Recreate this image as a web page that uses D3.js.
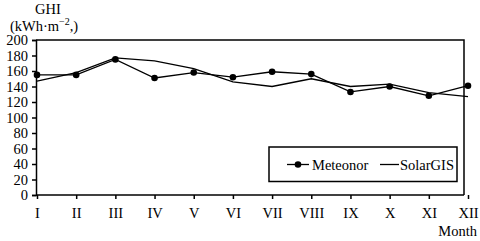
<!DOCTYPE html>
<html>
<head>
<meta charset="utf-8">
<script src="https://cdn.jsdelivr.net/npm/d3@7"></script>
<style>
body { margin: 0; background: #fff; }
svg text { font-family: "Liberation Serif", "Times New Roman", serif; fill: #000; }
</style>
</head>
<body>
<div></div>
<script>
// chart data
var months = ["I", "II", "III", "IV", "V", "VI", "VII", "VIII", "IX", "X", "XI", "XII"];
var meteonor = [155, 155, 175, 151, 158, 152, 159, 156, 133, 140, 128, 141];
var solargis = [147, 158, 177, 173, 163, 146, 140, 150, 140, 143, 132, 127];
var yTicks = [0, 20, 40, 60, 80, 100, 120, 140, 160, 180, 200];

var width = 480, height = 241;
var plotLeft = 36, plotRight = 464, plotTop = 40, plotBottom = 195;
var fs = "14.5px";

var svg = d3.select("div").append("svg")
    .attr("width", width)
    .attr("height", height);

var x = d3.scalePoint()
    .domain(months)
    .range([37, 468]);
var y = d3.scaleLinear()
    .domain([0, 200])
    .range([plotBottom, plotTop]);

// frame top + right
svg.append("path")
    .attr("d", "M" + plotLeft + "," + plotTop + "H" + plotRight + "V" + plotBottom)
    .attr("fill", "none")
    .attr("stroke", "#000")
    .attr("stroke-width", 1.5);

// y axis
var yAxis = svg.append("g")
    .attr("transform", "translate(" + plotLeft + ",0)")
    .call(d3.axisLeft(y).tickValues(yTicks).tickSize(4).tickPadding(4));
yAxis.select(".domain").attr("stroke-width", 1.5);
yAxis.selectAll("line").attr("stroke-width", 1.5);
yAxis.selectAll("text").style("font-size", fs);

// x axis
var xAxis = svg.append("g")
    .attr("transform", "translate(0," + plotBottom + ")")
    .call(d3.axisBottom(x).tickSize(4).tickPadding(9));
xAxis.select(".domain").attr("d", "M" + plotLeft + ",0H" + plotRight).attr("stroke-width", 1.5);
xAxis.selectAll("line").attr("stroke-width", 1.5);
xAxis.selectAll("text").style("font-size", fs);

// lines
var line = d3.line()
    .x(function(d, i) { return x(months[i]); })
    .y(function(d) { return y(d); });

svg.append("path")
    .datum(solargis)
    .attr("d", line)
    .attr("fill", "none")
    .attr("stroke", "#000")
    .attr("stroke-width", 1.3);

svg.append("path")
    .datum(meteonor)
    .attr("d", line)
    .attr("fill", "none")
    .attr("stroke", "#000")
    .attr("stroke-width", 1.3);

svg.selectAll(".dot")
    .data(meteonor)
  .enter().append("circle")
    .attr("class", "dot")
    .attr("cx", function(d, i) { return x(months[i]); })
    .attr("cy", function(d) { return y(d); })
    .attr("r", 3.3)
    .attr("fill", "#000");

// titles
svg.append("text").attr("x", 48).attr("y", 14).attr("text-anchor", "middle")
    .style("font-size", fs).text("GHI");
var unit = svg.append("text").attr("x", 44).attr("y", 31).attr("text-anchor", "middle")
    .style("font-size", fs);
unit.append("tspan").text("(kWh·m");
unit.append("tspan").attr("dy", -6).style("font-size", "10px").text("−2");
unit.append("tspan").attr("dy", 6).text(",)");

svg.append("text").attr("x", 477).attr("y", 236).attr("text-anchor", "end")
    .style("font-size", fs).text("Month");

// legend
var legend = svg.append("g");
legend.append("rect")
    .attr("x", 269).attr("y", 147).attr("width", 188).attr("height", 34.5)
    .attr("fill", "#fff").attr("stroke", "#000").attr("stroke-width", 1.5);
legend.append("line").attr("x1", 287).attr("x2", 309).attr("y1", 164.5).attr("y2", 164.5)
    .attr("stroke", "#000").attr("stroke-width", 1.3);
legend.append("circle").attr("cx", 298).attr("cy", 164.5).attr("r", 3.3).attr("fill", "#000");
legend.append("text").attr("x", 312).attr("y", 169.5).style("font-size", fs).text("Meteonor");
legend.append("line").attr("x1", 380).attr("x2", 399).attr("y1", 164.5).attr("y2", 164.5)
    .attr("stroke", "#000").attr("stroke-width", 1.3);
legend.append("text").attr("x", 400).attr("y", 169.5).style("font-size", fs).text("SolarGIS");
</script>
</body>
</html>
